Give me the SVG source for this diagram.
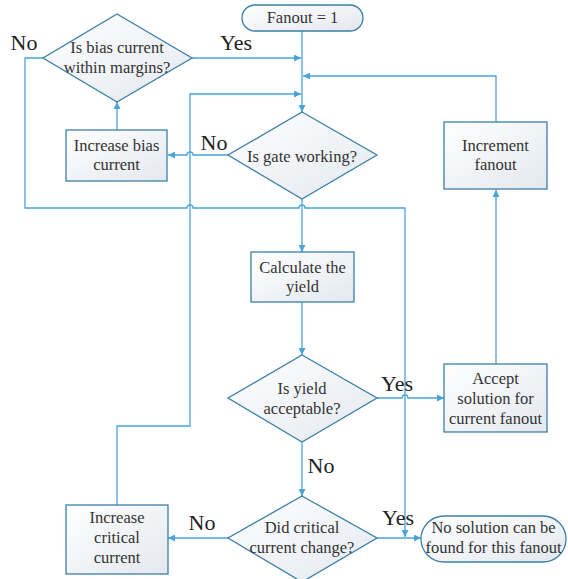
<svg xmlns="http://www.w3.org/2000/svg" width="568" height="579" viewBox="0 0 568 579">
<defs>
<linearGradient id="g" x1="0" y1="0" x2="1" y2="1">
<stop offset="0" stop-color="#ffffff"/>
<stop offset="1" stop-color="#e3e8ee"/>
</linearGradient>
<marker id="a" viewBox="0 0 8 8" refX="8" refY="4" markerWidth="7" markerHeight="7" markerUnits="userSpaceOnUse" orient="auto">
<path d="M0 0 L8 4 L0 8 Z" fill="#4aa3db"/>
</marker>
<style>
.n{fill:url(#g);stroke:#3b7fa8;stroke-width:1.3}
text{font-family:'Liberation Serif','DejaVu Serif',serif}
.t{font-size:16.5px;fill:#333;text-anchor:middle}
.l{font-size:22px;fill:#222;text-anchor:middle}
.c{fill:none;stroke:#4aa3db;stroke-width:1.3}
.c.m{marker-end:url(#a)}
</style>
</defs>
<rect width="568" height="579" fill="#fff"/>
<g id="connectors">
<path class="c m" d="M302 31 V112"/>
<path class="c m" d="M192 58 H301"/>
<path class="c m" d="M496 122 V76 H303"/>
<path class="c m" d="M117 505 V426 H190 V94 H301"/>
<path class="c m" d="M117 130 V102"/>
<path class="c m" d="M228 155 H193 A3 3 0 0 0 187 155 H168"/>
<path class="c m" d="M43 58 H25 V208 H187 A3 3 0 0 1 193 208 H299 A3 3 0 0 1 305 208 H405 V537"/>
<path class="c m" d="M302 199 V252"/>
<path class="c m" d="M302 302 V355"/>
<path class="c m" d="M377 398 H402 A3 3 0 0 1 408 398 H444"/>
<path class="c m" d="M496 364 V190"/>
<path class="c m" d="M302 442 V496"/>
<path class="c m" d="M228 538 H168"/>
<path class="c m" d="M377 538 H421"/>
</g>
<g id="labels" font-family="Liberation Serif, serif">
<text class="l" x="24" y="50">No</text>
<text class="l" x="236" y="50">Yes</text>
<text class="l" x="214" y="150">No</text>
<text class="l" x="397" y="391">Yes</text>
<text class="l" x="321" y="473">No</text>
<text class="l" x="202" y="530">No</text>
<text class="l" x="398" y="525">Yes</text>
</g>
<g id="start">
<rect class="n" x="242" y="5" width="121" height="26" rx="13"/>
<text class="t" x="302.5" y="23">Fanout = 1</text>
</g>
<g id="bias-check">
<polygon class="n" points="117,14 192,58 117,102 43,58"/>
<text class="t" x="117" y="53">Is bias current</text>
<text class="t" x="117" y="73">within margins?</text>
</g>
<g id="increase-bias">
<rect class="n" x="66" y="130" width="101" height="51"/>
<text class="t" x="116.5" y="151">Increase bias</text>
<text class="t" x="116.5" y="170">current</text>
</g>
<g id="gate-check">
<polygon class="n" points="302,112 377,155 302,199 228,155"/>
<text class="t" x="302" y="162">Is gate working?</text>
</g>
<g id="increment-fanout">
<rect class="n" x="444" y="122" width="103" height="67"/>
<text class="t" x="495.5" y="151">Increment</text>
<text class="t" x="495.5" y="170">fanout</text>
</g>
<g id="calc-yield">
<rect class="n" x="251" y="252" width="103" height="50"/>
<text class="t" x="302.5" y="273">Calculate the</text>
<text class="t" x="302.5" y="292">yield</text>
</g>
<g id="yield-check">
<polygon class="n" points="302,355 377,398 302,442 228,398"/>
<text class="t" x="302" y="394">Is yield</text>
<text class="t" x="302" y="414">acceptable?</text>
</g>
<g id="accept">
<rect class="n" x="444" y="364" width="103" height="68"/>
<text class="t" x="495.5" y="384">Accept</text>
<text class="t" x="495.5" y="404">solution for</text>
<text class="t" x="495.5" y="424">current fanout</text>
</g>
<g id="crit-check">
<polygon class="n" points="302,496 377,538 302,582 228,538"/>
<text class="t" x="302" y="533">Did critical</text>
<text class="t" x="302" y="553">current change?</text>
</g>
<g id="increase-crit">
<rect class="n" x="66" y="505" width="102" height="69"/>
<text class="t" x="117" y="523">Increase</text>
<text class="t" x="117" y="543">critical</text>
<text class="t" x="117" y="563">current</text>
</g>
<g id="no-solution">
<rect class="n" x="421" y="516" width="145" height="46" rx="23"/>
<text class="t" x="493.5" y="533">No solution can be</text>
<text class="t" x="493.5" y="553">found for this fanout</text>
</g>
</svg>
